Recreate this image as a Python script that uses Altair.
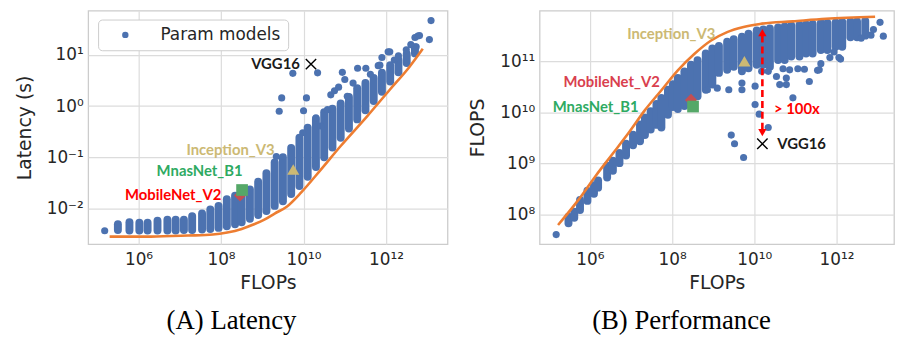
import altair as alt
import pandas as pd

BLUE = "#4C72B0"
ORANGE = "#ED7D31"

# ---------------- Panel A : latency (values are log10 exponents) ----------------
lat_curve_flops_exp = [5.30, 6.30, 7.20, 7.80, 8.15, 8.50, 8.80, 9.05, 9.30, 9.60, 9.95, 10.42, 10.90, 11.54, 12.09, 12.57, 12.89]
lat_curve_exp = [-2.55, -2.55, -2.53, -2.51, -2.47, -2.40, -2.31, -2.22, -2.10, -1.96, -1.68, -1.24, -0.78, -0.20, 0.32, 0.77, 1.12]

lat_col_flops_exp = [5.50, 5.78, 6.02, 6.22, 6.46, 6.70, 6.90, 7.10, 7.30, 7.54, 7.74, 7.94, 8.14, 8.34, 8.50, 8.70,
                     8.90, 9.10, 9.30, 9.50, 9.70, 9.90, 10.10, 10.30, 10.50, 10.70, 10.90, 11.10, 11.30, 11.50,
                     11.70, 11.90, 12.10, 12.30, 12.50, 12.70]
lat_col_low_exp = [-2.42, -2.43, -2.43, -2.43, -2.43, -2.43, -2.43, -2.42, -2.42, -2.41, -2.40, -2.38, -2.35, -2.31,
                   -2.27, -2.20, -2.13, -2.05, -1.95, -1.86, -1.72, -1.56, -1.38, -1.19, -1.00, -0.81, -0.62, -0.44,
                   -0.26, -0.08, 0.10, 0.28, 0.48, 0.66, 0.84, 1.03]
lat_col_high_exp = [-2.31, -2.27, -2.28, -2.28, -2.24, -2.22, -2.22, -2.22, -2.15, -2.10, -2.02, -1.95, -1.82, -1.75,
                    -1.70, -1.63, -1.48, -1.31, -1.10, -1.00, -0.82, -0.62, -0.42, -0.25, -0.12, -0.05, 0.05, 0.18,
                    0.35, 0.45, 0.55, 0.65, 0.80, 0.90, 1.02, 1.15]

lat_pts_flops_exp = [5.18, 9.74, 10.34, 9.47, 10.07, 9.41, 10.00, 10.30, 9.98, 10.42, 10.58, 10.66, 10.85, 11.06,
                     10.94, 11.31, 11.51, 11.81, 11.85, 12.05, 12.09, 12.49, 12.73, 12.70, 12.77, 12.81, 13.05,
                     13.09, 9.34, 11.20, 11.00, 10.75, 11.62, 12.30, 12.60, 11.90, 12.20]
lat_pts_exp = [-2.435, 0.64, 0.65, 0.16, 0.16, -0.10, -0.09, -0.23, -0.52, -0.39, -0.07, 0.22, 0.37, 0.19,
               0.66, 0.74, 0.74, 0.79, 0.80, 1.06, 1.06, 1.10, 1.16, 1.34, 1.37, 1.38, 1.30,
               1.67, -0.985, 0.45, 0.52, 0.30, 0.62, 0.98, 1.20, 0.95, 0.90]

# ---------------- Panel B : performance ----------------
perf_curve_flops_exp = [5.225, 5.74, 6.14, 6.54, 6.94, 7.34, 7.74, 8.14, 8.54, 8.94, 9.34, 9.74, 10.14, 10.94, 11.74, 12.94]
perf_curve_exp = [7.787, 8.30, 8.75, 9.17, 9.59, 10.04, 10.43, 10.82, 11.14, 11.40, 11.57, 11.67, 11.73, 11.78, 11.83, 11.87]

perf_col_flops_exp = [5.48, 5.62, 5.76, 5.94, 6.10, 6.20, 6.42, 6.56, 6.72, 6.88, 7.05, 7.22, 7.34, 7.48, 7.62, 7.74,
                      7.90, 8.02, 8.14, 8.30, 8.46, 8.62, 8.82, 8.98, 9.14, 9.34, 9.50, 9.70, 9.86, 10.06, 10.22,
                      10.38, 10.58, 10.74, 10.90, 11.10, 11.26, 11.42, 11.62, 11.78, 11.98, 12.14, 12.34, 12.50, 12.70]
perf_col_low_exp = [7.82, 7.93, 8.08, 8.26, 8.40, 8.52, 8.72, 8.85, 9.00, 9.15, 9.35, 9.43, 9.55, 9.66, 9.75, 9.70,
                    9.95, 10.10, 10.06, 10.12, 10.18, 10.31, 10.44, 10.54, 10.77, 10.83, 10.89, 10.80, 10.86, 10.93,
                    10.93, 10.89, 11.02, 11.02, 11.09, 11.09, 11.15, 11.15, 11.22, 11.22, 11.28, 11.28, 11.47, 11.47, 11.50]
perf_col_high_exp = [7.95, 8.05, 8.28, 8.46, 8.57, 8.66, 8.95, 9.05, 9.20, 9.38, 9.56, 9.76, 9.89, 10.02, 10.16, 10.28,
                     10.44, 10.55, 10.67, 10.80, 10.93, 11.02, 11.15, 11.25, 11.30, 11.38, 11.43, 11.48, 11.54, 11.60,
                     11.62, 11.64, 11.66, 11.68, 11.70, 11.71, 11.72, 11.73, 11.75, 11.75, 11.76, 11.77, 11.78, 11.78, 11.79]

perf_pts_flops_exp = [5.18, 13.06, 13.14, 12.84, 12.10, 11.94, 11.58, 11.34, 10.94, 10.78, 10.62, 10.34, 10.18, 10.02,
                      10.02, 10.12, 10.34, 9.44, 9.52, 9.74, 9.70, 9.70, 9.38, 9.10, 8.86, 10.70, 10.86, 11.06, 11.22,
                      10.54, 10.78, 11.62, 11.54, 11.84, 12.06, 12.60, 12.90]
perf_pts_exp = [7.60, 11.76, 11.49, 11.51, 11.04, 11.18, 10.83, 10.60, 10.28, 10.54, 10.54, 10.80, 10.80, 10.51,
                10.15, 9.96, 9.70, 9.55, 9.38, 9.11, 10.44, 10.57, 10.44, 10.47, 10.44, 10.85, 10.83, 10.85, 10.84,
                10.70, 10.67, 10.95, 10.82, 11.07, 11.07, 11.45, 11.62]

# ---------------- named models ----------------
model_names = ["MobileNet_V2", "MnasNet_B1", "Inception_V3", "VGG16"]
model_flops_exp = [8.46, 8.51, 9.75, 10.18]
model_lat_exp = [-1.745, -1.64, -1.24, 0.82]
model_perf_flops_exp = [8.46, 8.51, 9.76, 10.197]
model_perf_exp = [10.24, 10.11, 11.0, 9.38]
model_marker_colors = ["#C44E52", "#55A868", "#CCB974", "#000000"]
model_shapes = ["diamond", "square", "triangle-up", "M-1,-1L1,1M-1,1L1,-1"]
model_sizes = [150, 140, 150, 110]

# label anchors (log10 exponents)
lat_label_x_exp = [6.84, 7.48, 8.23, 9.91]
lat_label_y_exp = [-1.74, -1.274, -0.857, 0.82]
lat_label_align = ["center", "center", "center", "right"]
lat_label_colors = ["#FF0000", "#2EAA62", "#CCB974", "#1A1A1A"]

perf_label_x_exp = [6.53, 6.14, 7.98, 10.56]
perf_label_y_exp = [10.59, 10.095, 11.526, 9.38]
perf_label_align = ["center", "center", "center", "left"]
perf_label_colors = ["#D9404E", "#2EAA62", "#CCB974", "#1A1A1A"]

# gap arrow (panel B)
arrow_flops_exp = 10.197
arrow_top_exp = 11.50
arrow_bottom_exp = 9.66
arrow_head_top_exp = 11.56
arrow_head_bottom_exp = 9.60
gap_label = "> 100x"
gap_label_x_exp = 10.48
gap_label_y_exp = 10.06

SUP = {-2: "⁻²", -1: "⁻¹", 0: "⁰", 1: "¹", 6: "⁶", 8: "⁸", 9: "⁹", 10: "¹⁰", 11: "¹¹", 12: "¹²"}
EXP = "round(log(datum.value)/LN10)"
label_expr = "'10' + (" + " : ".join(f"{EXP}=={k} ? '{v}'" for k, v in SUP.items()) + " : '')"


def p(v):
    return 10 ** v


def panel(xdom, ydom, yvals, ytitle, curve_x, curve_y, col_x, col_lo, col_hi, pts_x, pts_y, legend):
    xs = alt.Scale(type="log", domain=[p(xdom[0]), p(xdom[1])], nice=False)
    ys = alt.Scale(type="log", domain=[p(ydom[0]), p(ydom[1])], nice=False)
    xax = alt.Axis(values=[1e6, 1e8, 1e10, 1e12], labelExpr=label_expr, grid=True,
                   labelPadding=7, titlePadding=7)
    yax = alt.Axis(values=yvals, labelExpr=label_expr, grid=True, labelPadding=5, titlePadding=12)

    def X(f):
        return alt.X(f, type="quantitative", scale=xs, axis=xax, title="FLOPs")

    def Y(f):
        return alt.Y(f, type="quantitative", scale=ys, axis=yax, title=ytitle)

    cols = pd.DataFrame({"x": [p(v) for v in col_x], "lo": [p(v) for v in col_lo], "hi": [p(v) for v in col_hi]})
    pts = pd.DataFrame({"x": [p(v) for v in pts_x], "y": [p(v) for v in pts_y], "series": "Param models"})
    curve = pd.DataFrame({"x": [p(v) for v in curve_x], "y": [p(v) for v in curve_y]})

    layers = []
    layers.append(alt.Chart(cols).mark_rule(strokeWidth=8, strokeCap="round", color=BLUE).encode(
        x=X("x"), y=Y("lo"), y2="hi"))
    if legend:
        color = alt.Color("series:N", scale=alt.Scale(domain=["Param models"], range=[BLUE]),
                          legend=alt.Legend(title=None, orient="none", legendX=10, legendY=9, labelFontSize=17,
                                            labelFont="DejaVu Sans", labelColor="#262626",
                                            symbolSize=42, symbolType="circle",
                                            fillColor="white", strokeColor="#cccccc", cornerRadius=4,
                                            padding=7, symbolOffset=12, labelOffset=27))
    else:
        color = alt.value(BLUE)
    layers.append(alt.Chart(pts).mark_circle(size=52, opacity=1).encode(x=X("x"), y=Y("y"), color=color))
    layers.append(alt.Chart(curve).mark_line(color=ORANGE, strokeWidth=2.6, interpolate="monotone").encode(
        x=X("x"), y=Y("y")))
    return X, Y, layers


def add_models(layers, X, Y, mx, my):
    for i, name in enumerate(model_names):
        d = pd.DataFrame({"x": [p(mx[i])], "y": [p(my[i])]})
        if i == 3:
            m = alt.Chart(d).mark_point(shape=model_shapes[i], filled=False, stroke="black",
                                         strokeWidth=1.4, size=model_sizes[i], opacity=1)
        else:
            m = alt.Chart(d).mark_point(shape=model_shapes[i], filled=True, color=model_marker_colors[i],
                                         size=model_sizes[i], opacity=1)
        layers.append(m.encode(x=X("x"), y=Y("y")))


def add_labels(layers, X, Y, lx, ly, align, colors):
    for i, name in enumerate(model_names):
        d = pd.DataFrame({"x": [p(lx[i])], "y": [p(ly[i])], "t": [name]})
        layers.append(alt.Chart(d).mark_text(font="Lato", fontWeight="bold", fontSize=15, align=align[i],
                                             baseline="middle", color=colors[i]).encode(
            x=X("x"), y=Y("y"), text="t:N"))


def caption(text):
    return alt.TitleParams(text=text, orient="bottom", anchor="middle", frame="bounds",
                           font="Liberation Serif", fontSize=27, fontWeight="normal", color="black", offset=16)


# ---- Panel A
XA, YA, layersA = panel((4.78, 13.49), (-2.70, 1.865), [0.01, 0.1, 1, 10], "Latency (s)",
                        lat_curve_flops_exp, lat_curve_exp, lat_col_flops_exp, lat_col_low_exp,
                        lat_col_high_exp, lat_pts_flops_exp, lat_pts_exp, True)
add_models(layersA, XA, YA, model_flops_exp, model_lat_exp)
add_labels(layersA, XA, YA, lat_label_x_exp, lat_label_y_exp, lat_label_align, lat_label_colors)
chartA = alt.layer(*layersA).properties(width=363, height=236, title=caption("(A) Latency"))

# ---- Panel B
XB, YB, layersB = panel((4.777, 13.40), (7.41, 11.99), [1e8, 1e9, 1e10, 1e11], "FLOPS",
                        perf_curve_flops_exp, perf_curve_exp, perf_col_flops_exp, perf_col_low_exp,
                        perf_col_high_exp, perf_pts_flops_exp, perf_pts_exp, False)
arrow = pd.DataFrame({"x": [p(arrow_flops_exp)], "y": [p(arrow_top_exp)], "y2": [p(arrow_bottom_exp)]})
layersB.append(alt.Chart(arrow).mark_rule(color="#FF0000", strokeWidth=2.6, strokeDash=[7, 4]).encode(
    x=XB("x"), y=YB("y"), y2="y2"))
heads_up = pd.DataFrame({"x": [p(arrow_flops_exp)], "y": [p(arrow_head_top_exp)]})
heads_dn = pd.DataFrame({"x": [p(arrow_flops_exp)], "y": [p(arrow_head_bottom_exp)]})
layersB.append(alt.Chart(heads_up).mark_point(shape="triangle-up", filled=True, color="#FF0000", size=70,
                                               opacity=1).encode(x=XB("x"), y=YB("y")))
layersB.append(alt.Chart(heads_dn).mark_point(shape="triangle-down", filled=True, color="#FF0000", size=70,
                                               opacity=1).encode(x=XB("x"), y=YB("y")))
add_models(layersB, XB, YB, model_perf_flops_exp, model_perf_exp)
add_labels(layersB, XB, YB, perf_label_x_exp, perf_label_y_exp, perf_label_align, perf_label_colors)
gap = pd.DataFrame({"x": [p(gap_label_x_exp)], "y": [p(gap_label_y_exp)], "t": [gap_label]})
layersB.append(alt.Chart(gap).mark_text(font="Lato", fontWeight="bold", fontSize=15, align="left",
                                        baseline="middle", color="#FF0000").encode(
    x=XB("x"), y=YB("y"), text="t:N"))
chartB = alt.layer(*layersB).properties(width=358, height=236, title=caption("(B) Performance"))

chart = (
    alt.hconcat(chartA, chartB, spacing=20)
    .resolve_scale(color="independent")
    .resolve_legend(color="independent")
    .properties(padding={"left": 6, "top": 0, "right": 0, "bottom": 0})
    .configure_view(stroke="#cccccc", strokeWidth=1.3)
    .configure_axis(gridColor="#dcdcdc", gridWidth=1.2, labelFont="DejaVu Sans", labelFontSize=17,
                    labelColor="#262626", titleFont="DejaVu Sans", titleFontSize=19, titleFontWeight="normal",
                    titleColor="#262626", ticks=False, domain=False)
)

chart.save("out.html", embed_options={"renderer": "svg", "actions": False})
